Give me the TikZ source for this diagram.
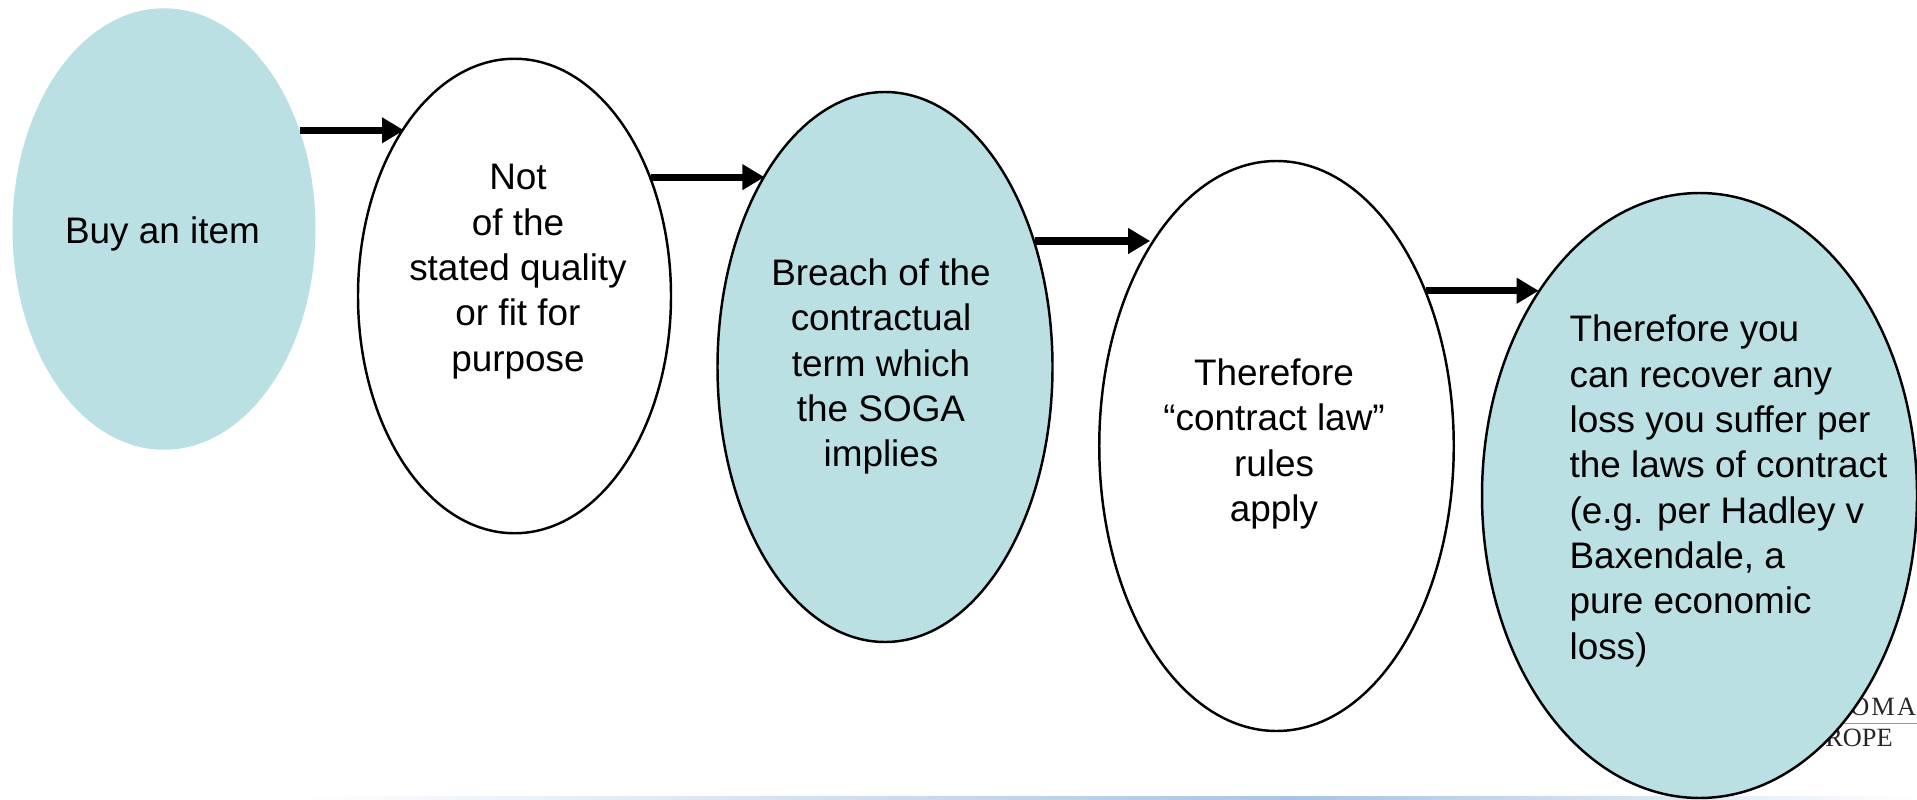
\documentclass[tikz,border=0pt]{standalone}
\usepackage{fontspec}
\setmainfont{Liberation Sans}
\newfontfamily\logofont{Liberation Serif}
\usetikzlibrary{arrows.meta}
\usetikzlibrary{shapes.geometric}
\definecolor{ovalblue}{HTML}{BAE0E3}
\definecolor{footblue}{HTML}{A9C3E2}
\begin{document}
\begin{tikzpicture}[
    oval/.style={ellipse, inner sep=0pt},
    drawn/.style={oval, draw=black, line width=1.4pt},
    caption/.style={font=\fontsize{21}{25.8}\selectfont, align=center, inner sep=0pt},
    logo/.style={font=\logofont\fontsize{15}{16}\selectfont, text=black!85, inner sep=0pt},
    flow/.style={line width=4pt, -{Triangle[length=4.4mm, width=4.9mm]}}]
            \useasboundingbox (0, 0) rectangle (38.34, 15.98);
            % logo and footer behind the last oval
            \node[logo, anchor=west] (logoa) at (37.0, 1.84) {O\kern1.2pt M\kern1.2pt A};
            \node[logo, anchor=west] (logob) at (36.5, 1.22) {ROPE};
            \fill[black!40] (36.8, 1.51) rectangle (38.34, 1.53);
            \shade[left color=white, right color=footblue] (6, 0) rectangle (26, 0.05);
            \shade[left color=footblue, right color=white] (26, 0) rectangle (38.34, 0.05);

            \node[oval, fill=ovalblue, minimum width=6.06cm, minimum height=8.83cm] (buy) at (3.28, 11.40) {};
            \node[drawn, fill=white, minimum width=6.26cm, minimum height=9.49cm] (quality) at (10.29, 10.06) {};
            \node[drawn, fill=ovalblue, minimum width=6.70cm, minimum height=11.00cm] (breach) at (17.70, 8.64) {};
            \node[drawn, fill=white, minimum width=7.09cm, minimum height=11.40cm] (rules) at (25.53, 7.06) {};
            \node[drawn, fill=ovalblue, minimum width=8.70cm, minimum height=12.10cm] (loss) at (33.99, 6.07) {};

            \node[caption] (buytext) at (3.25, 11.30) {Buy an item};
            \node[caption] (qualitytext) at (10.36, 10.55) {Not\\of the\\stated quality\\or fit for\\purpose};
            \node[caption] (breachtext) at (17.62, 8.65) {Breach of the\\contractual\\term which\\the SOGA\\implies};
            \node[caption] (rulestext) at (25.48, 7.10) {Therefore\\“contract law”\\rules\\apply};
            \node[caption, align=left] (losstext) at (34.57, 6.16) {Therefore you\\can recover any\\loss you suffer per\\the laws of contract\\(e.g. per Hadley v\\Baxendale, a\\pure economic\\loss)};

            \foreach \a/\s/\b/\t in {buy/36/quality/123.5, quality/41.2/breach/122, breach/40.5/rules/122, rules/46.6/loss/128.2}
            {
                \draw[flow] (\a.\s) -- (\a.\s -| \b.\t);
            }
        \end{tikzpicture}
\end{document}
